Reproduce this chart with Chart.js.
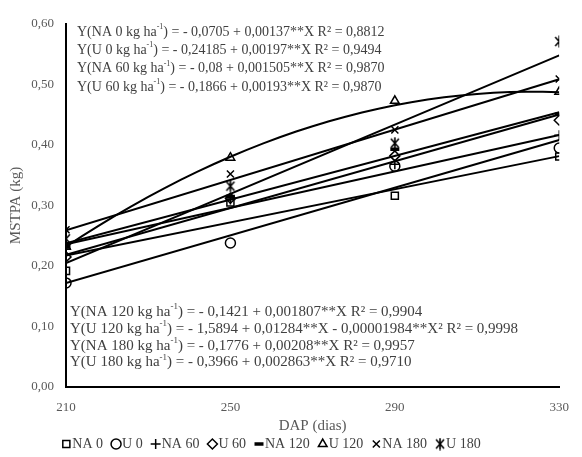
<!DOCTYPE html>
<html>
<head>
<meta charset="utf-8">
<script src="https://cdn.jsdelivr.net/npm/chart.js@4.4.1/dist/chart.umd.min.js"></script>
<style>
    html, body { margin: 0; padding: 0; background: #fff; }
    #wrap { width: 582px; height: 457px; }
</style>
</head>
<body>
<div id="wrap"><canvas id="chart" width="582" height="457"></canvas></div>
<script>
// DAP (dias)
const dap = [210, 250, 290, 330];
const seriesNames = ['NA 0', 'U 0', 'NA 60', 'U 60', 'NA 120', 'U 120', 'NA 180', 'U 180'];

// MSTPA (kg) observada
const na0   = [0.192, 0.305, 0.316, 0.381];
const u0    = [0.172, 0.238, 0.365, 0.395];
const na60  = [0.228, 0.310, 0.368, 0.416];
const u60   = [0.215, 0.312, 0.382, 0.441];
const na120 = [0.232, 0.315, 0.393, 0.451];
const u120  = [0.232, 0.379, 0.473, 0.488];
const na180 = [0.260, 0.352, 0.425, 0.509];
const u180  = [0.245, 0.332, 0.403, 0.571];

// coeficientes das equações: Y = a + b*X + c*X²
const coefA = [-0.0705, -0.24185, -0.08, -0.1866, -0.1421, -1.5894, -0.1776, -0.3966];
const coefB = [0.00137, 0.00197, 0.001505, 0.00193, 0.001807, 0.01284, 0.00208, 0.002863];
const coefC = [0, 0, 0, 0, 0, -0.00001984, 0, 0];

const yTicks = [0, 0.1, 0.2, 0.3, 0.4, 0.5, 0.6];

const eqTop = [
    ['Y(NA 0 kg ha', ') = - 0,0705 + 0,00137**X R² = 0,8812'],
    ['Y(U 0 kg ha', ') = - 0,24185 + 0,00197**X R² = 0,9494'],
    ['Y(NA 60 kg ha', ') = - 0,08 + 0,001505**X R² = 0,9870'],
    ['Y(U 60 kg ha', ') = - 0,1866 + 0,00193**X R² = 0,9870']
];
const eqBottom = [
    ['Y(NA 120 kg ha', ') = - 0,1421 + 0,001807**X R² = 0,9904'],
    ['Y(U 120 kg ha', ') = - 1,5894 + 0,01284**X - 0,00001984**X² R² = 0,9998'],
    ['Y(NA 180 kg ha', ') = - 0,1776 + 0,00208**X R² = 0,9957'],
    ['Y(U 180 kg ha', ') = - 0,3966 + 0,002863**X R² = 0,9710']
];

const serif = '"Liberation Serif", "Times New Roman", serif';

// marcador asterisco (X com traço vertical)
function makeAsterisk() {
    const c = document.createElement('canvas');
    c.width = 12; c.height = 13;
    const g = c.getContext('2d');
    g.strokeStyle = '#000';
    g.lineWidth = 1.6;
    g.beginPath();
    g.moveTo(2, 2); g.lineTo(10, 11);
    g.moveTo(10, 2); g.lineTo(2, 11);
    g.moveTo(6, 0.5); g.lineTo(6, 12.5);
    g.stroke();
    return c;
}

const markers = ['rect', 'circle', 'cross', 'rectRot', 'line', 'triangle', 'crossRot', makeAsterisk()];
const observed = [na0, u0, na60, u60, na120, u120, na180, u180];

const pointSets = observed.map((vals, i) => ({
    label: seriesNames[i],
    data: dap.map((x, j) => ({ x: x, y: vals[j] })),
    pointStyle: markers[i],
    pointRadius: i === 4 ? 4.5 : 5,
    pointBorderWidth: i === 4 ? 3.5 : 1.5,
    borderWidth: i === 4 ? 3.5 : 1.5,
    borderColor: '#000',
    backgroundColor: 'rgba(0,0,0,0)',
    pointBorderColor: '#000',
    pointBackgroundColor: 'rgba(0,0,0,0)',
    showLine: false
}));

// linhas de tendência a partir das equações ajustadas
const trendSets = coefA.map((a, i) => {
    const xs = [];
    for (let x = dap[0]; x <= dap[dap.length - 1]; x += coefC[i] !== 0 ? 4 : 120) xs.push(x);
    return {
        label: '',
        data: xs.map(x => ({ x: x, y: a + coefB[i] * x + coefC[i] * x * x })),
        showLine: true,
        borderColor: '#000',
        borderWidth: 2,
        pointRadius: 0,
        pointHoverRadius: 0,
        tension: 0
    };
});

function drawBlock(ctx, lines, x, y, step, size) {
    lines.forEach((ln, i) => {
        const yy = y + i * step;
        let xx = x;
        ctx.font = size + 'px ' + serif;
        ctx.fillText(ln[0], xx, yy);
        xx += ctx.measureText(ln[0]).width;
        ctx.font = Math.round(size * 0.6) + 'px ' + serif;
        ctx.fillText('-1', xx, yy - 5);
        xx += ctx.measureText('-1').width;
        ctx.font = size + 'px ' + serif;
        ctx.fillText(ln[1], xx, yy);
    });
}

const equationsPlugin = {
    id: 'equacoes',
    afterDatasetsDraw(chart) {
        const ctx = chart.ctx;
        ctx.save();
        ctx.fillStyle = '#404040';
        ctx.textBaseline = 'middle';
        drawBlock(ctx, eqTop, 77, 32, 18.3, 14);
        drawBlock(ctx, eqBottom, 70, 312, 16.8, 15);
        ctx.restore();
    }
};

// legenda desenhada embaixo, marcador colado ao texto
const legendPlugin = {
    id: 'legendaPontos',
    afterDraw(chart) {
        const ctx = chart.ctx;
        const ds = chart.data.datasets.slice(0, seriesNames.length);
        ctx.save();
        ctx.font = '14px ' + serif;
        ctx.textBaseline = 'middle';
        const markW = 11, gap = 8;
        let total = 0;
        ds.forEach(d => { total += markW + ctx.measureText(d.label).width + gap; });
        total -= gap;
        let x = 271 - total / 2;
        const y = 444;
        ds.forEach(d => {
            ctx.strokeStyle = '#000';
            ctx.fillStyle = 'rgba(0,0,0,0)';
            ctx.lineWidth = d.pointBorderWidth;
            Chart.helpers.drawPoint(ctx, {
                pointStyle: d.pointStyle,
                rotation: 0,
                radius: d.pointRadius,
                borderWidth: d.pointBorderWidth
            }, x + 5, y);
            ctx.fillStyle = '#404040';
            ctx.fillText(d.label, x + markW, y);
            x += markW + ctx.measureText(d.label).width + gap;
        });
        ctx.restore();
    }
};

new Chart(document.getElementById('chart'), {
    type: 'scatter',
    data: { datasets: pointSets.concat(trendSets) },
    options: {
        responsive: false,
        animation: false,
        layout: { padding: { left: 7, right: 14, top: 24, bottom: 22 } },
        plugins: {
            tooltip: { enabled: false },
            legend: { display: false }
        },
        scales: {
            x: {
                type: 'linear',
                min: dap[0],
                max: dap[dap.length - 1],
                afterBuildTicks: scale => { scale.ticks = dap.map(v => ({ value: v })); },
                afterFit: scale => { scale.height = 48; },
                grid: { display: false, drawTicks: false },
                border: { display: true, color: '#000', width: 2 },
                ticks: {
                    padding: 13,
                    color: '#595959',
                    font: { family: serif, size: 13 },
                    callback: v => String(v)
                },
                title: {
                    display: true,
                    text: 'DAP (dias)',
                    color: '#595959',
                    padding: 0,
                    font: { family: serif, size: 15 }
                }
            },
            y: {
                min: 0,
                max: 0.6,
                afterBuildTicks: scale => { scale.ticks = yTicks.map(v => ({ value: v })); },
                afterFit: scale => { scale.width = 59; },
                grid: { display: false, drawTicks: false },
                border: { display: true, color: '#000', width: 2 },
                ticks: {
                    padding: 12,
                    color: '#595959',
                    font: { family: serif, size: 13 },
                    callback: v => v.toFixed(2).replace('.', ',')
                },
                title: {
                    display: true,
                    text: 'MSTPA (kg)',
                    color: '#595959',
                    padding: 0,
                    font: { family: serif, size: 15 }
                }
            }
        }
    },
    plugins: [equationsPlugin, legendPlugin]
});
</script>
</body>
</html>
